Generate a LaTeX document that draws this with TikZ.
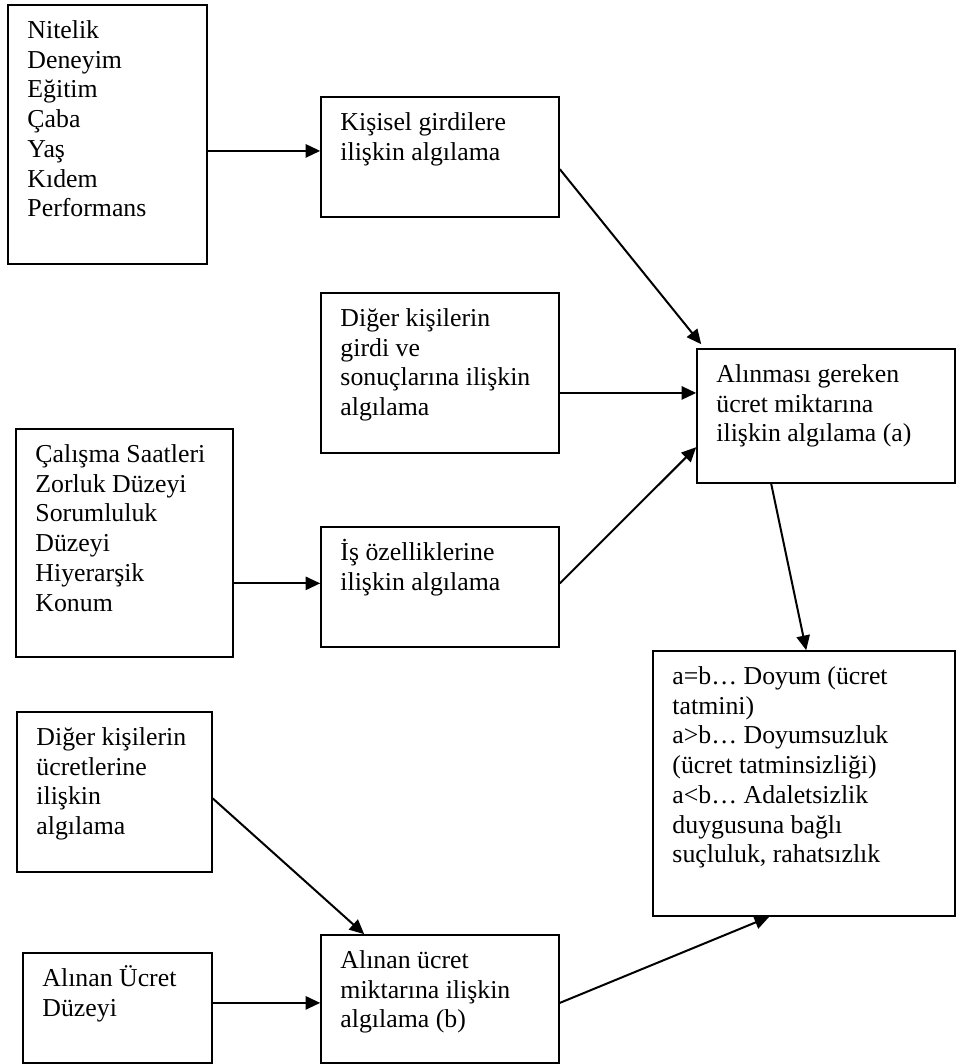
\documentclass[tikz,border=0pt]{standalone}
\usepackage{fontspec}
\setmainfont{Liberation Serif}
\usetikzlibrary{fit,calc,arrows.meta}
\tikzset{
  boxsty/.style={draw=black, line width=1.2pt, inner sep=0pt, rectangle},
  txt/.style={anchor=north west, inner sep=0pt, align=left, text=black,
    font=\fontsize{19.35pt}{22.3pt}\selectfont},
  arr/.style={draw=black, line width=1.5pt, -{Triangle[length=11pt,width=10pt]}}
}
\begin{document}
\begin{tikzpicture}[x=0.75pt,y=-0.75pt]
\useasboundingbox (0,0) rectangle (956,1064);
% boxes
\node[boxsty, fit={(8,5) (207,264)}] (A) {};
\node[boxsty, fit={(321,97) (559,217)}] (B) {};
\node[boxsty, fit={(321,293) (559,453)}] (C) {};
\node[boxsty, fit={(697,349) (955,483)}] (D) {};
\node[boxsty, fit={(16,429) (233,657)}] (E) {};
\node[boxsty, fit={(321,527) (559,647)}] (F) {};
\node[boxsty, fit={(653,651) (955,916)}] (G) {};
\node[boxsty, fit={(17,712) (212,872)}] (H) {};
\node[boxsty, fit={(23,953) (212,1063)}] (I) {};
\node[boxsty, fit={(321,935) (559,1063)}] (J) {};
% texts
\node[txt] (At) at ([xshift=15pt,yshift=-9.9pt]A.north west) {\strut Nitelik\\Deneyim\\Eğitim\\Çaba\\Yaş\\Kıdem\\Performans};
\node[txt] (Bt) at ([xshift=15pt,yshift=-9.9pt]B.north west) {\strut Kişisel girdilere\\ilişkin algılama};
\node[txt] (Ct) at ([xshift=15pt,yshift=-9.9pt]C.north west) {\strut Diğer kişilerin\\girdi ve\\sonuçlarına ilişkin\\algılama};
\node[txt] (Dt) at ([xshift=15pt,yshift=-9.9pt]D.north west) {\strut Alınması gereken\\ücret miktarına\\ilişkin algılama (a)};
\node[txt] (Et) at ([xshift=15pt,yshift=-9.9pt]E.north west) {\strut Çalışma Saatleri\\Zorluk Düzeyi\\Sorumluluk\\Düzeyi\\Hiyerarşik\\Konum};
\node[txt] (Ft) at ([xshift=15pt,yshift=-9.9pt]F.north west) {\strut İş özelliklerine\\ilişkin algılama};
\node[txt] (Gt) at ([xshift=15pt,yshift=-9.9pt]G.north west) {\strut a=b… Doyum (ücret\\tatmini)\\a>b… Doyumsuzluk\\(ücret tatminsizliği)\\a<b… Adaletsizlik\\duygusuna bağlı\\suçluluk, rahatsızlık};
\node[txt] (Ht) at ([xshift=15pt,yshift=-9.9pt]H.north west) {\strut Diğer kişilerin\\ücretlerine\\ilişkin\\algılama};
\node[txt] (It) at ([xshift=15pt,yshift=-9.9pt]I.north west) {\strut Alınan Ücret\\Düzeyi};
\node[txt] (Jt) at ([xshift=15pt,yshift=-9.9pt]J.north west) {\strut Alınan ücret\\miktarına ilişkin\\algılama (b)};
% connector end points
\coordinate (bA) at ($(B.north west)!0.45!(B.south west)$);
\coordinate (bOut) at ($(B.north east)!0.6!(B.south east)$);
\coordinate (dB) at ([xshift=3.75pt,yshift=3pt]D.north west);
\coordinate (dC) at ($(D.north west)!0.33!(D.south west)$);
\coordinate (fOut) at ($(F.north east)!0.47!(F.south east)$);
\coordinate (dF) at ($(D.north west)!0.73!(D.south west)$);
\coordinate (fE) at ($(F.north west)!0.47!(F.south west)$);
\coordinate (dOut) at ([xshift=56.25pt]D.south west);
\coordinate (gD) at ([xshift=115.5pt]G.north west);
\coordinate (hOut) at ($(H.north east)!0.54!(H.south east)$);
\coordinate (jH) at ([xshift=33pt]J.north west);
\coordinate (jI) at ($(J.north west)!0.53!(J.south west)$);
\coordinate (jOut) at ($(J.north east)!0.53!(J.south east)$);
\coordinate (gJ) at ([xshift=87.75pt]G.south west);
% connectors
\draw[arr] (A.east |- bA) -- (bA);
\draw[arr] (bOut) -- (dB);
\draw[arr] (C.east |- dC) -- (dC);
\draw[arr] (fOut) -- (dF);
\draw[arr] (E.east |- fE) -- (fE);
\draw[arr] (dOut) -- (gD);
\draw[arr] (hOut) -- (jH);
\draw[arr] (I.east |- jI) -- (jI);
\draw[arr] (jOut) -- (gJ);
\end{tikzpicture}
\end{document}
